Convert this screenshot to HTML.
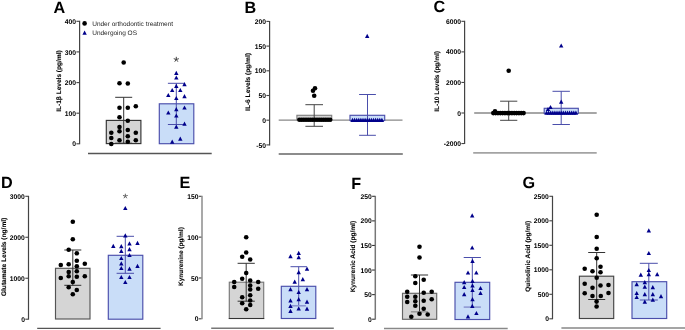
<!DOCTYPE html>
<html><head><meta charset="utf-8"><style>
html,body{margin:0;padding:0;background:#fff;}
body{width:685px;height:330px;overflow:hidden;}
svg{display:block;font-family:"Liberation Sans", sans-serif;text-rendering:geometricPrecision;}
svg{will-change:transform;}
</style></head><body>
<svg width="685" height="330" viewBox="0 0 685 330">
<rect width="685" height="330" fill="#fff"/>
<text x="53.6" y="13.3" font-size="16.2" font-weight="bold" fill="#000">A</text>
<line x1="79.60" y1="20.80" x2="79.60" y2="144.30" stroke="#444" stroke-width="1.2"/>
<line x1="76.40" y1="21.30" x2="79.30" y2="21.30" stroke="#444" stroke-width="1.1"/>
<text x="76.00" y="23.90" font-size="6.75" font-weight="bold" text-anchor="end" fill="#000" >400</text>
<line x1="76.40" y1="51.90" x2="79.30" y2="51.90" stroke="#444" stroke-width="1.1"/>
<text x="76.00" y="54.50" font-size="6.75" font-weight="bold" text-anchor="end" fill="#000" >300</text>
<line x1="76.40" y1="82.60" x2="79.30" y2="82.60" stroke="#444" stroke-width="1.1"/>
<text x="76.00" y="85.20" font-size="6.75" font-weight="bold" text-anchor="end" fill="#000" >200</text>
<line x1="76.40" y1="113.20" x2="79.30" y2="113.20" stroke="#444" stroke-width="1.1"/>
<text x="76.00" y="115.80" font-size="6.75" font-weight="bold" text-anchor="end" fill="#000" >100</text>
<line x1="76.40" y1="143.80" x2="79.30" y2="143.80" stroke="#444" stroke-width="1.1"/>
<text x="76.00" y="146.40" font-size="6.75" font-weight="bold" text-anchor="end" fill="#000" >0</text>
<text transform="translate(61.3,81.05) rotate(-90)" font-size="6.55" font-weight="bold" text-anchor="middle" fill="#000" stroke="#000" stroke-width="0.1">IL-1β Levels (pg/ml)</text>
<rect x="106.3" y="120.4" width="34.60" height="23.20" fill="#d5d5d5" stroke="#333" stroke-width="1.15"/>
<line x1="123.70" y1="97.30" x2="123.70" y2="143.20" stroke="#333" stroke-width="1"/>
<line x1="115.20" y1="97.30" x2="132.20" y2="97.30" stroke="#333" stroke-width="1"/>
<line x1="115.20" y1="143.20" x2="132.20" y2="143.20" stroke="#333" stroke-width="1"/>
<circle cx="123.7" cy="62.5" r="2.3" fill="#000"/>
<circle cx="119.5" cy="83.3" r="2.3" fill="#000"/>
<circle cx="127.8" cy="83.5" r="2.3" fill="#000"/>
<circle cx="119.5" cy="107.8" r="2.3" fill="#000"/>
<circle cx="127.8" cy="107.8" r="2.3" fill="#000"/>
<circle cx="135.8" cy="106.2" r="2.3" fill="#000"/>
<circle cx="119.5" cy="117.3" r="2.3" fill="#000"/>
<circle cx="127.8" cy="120.7" r="2.3" fill="#000"/>
<circle cx="119.5" cy="127" r="2.3" fill="#000"/>
<circle cx="119.5" cy="131.3" r="2.3" fill="#000"/>
<circle cx="127.8" cy="130" r="2.3" fill="#000"/>
<circle cx="135.8" cy="132.7" r="2.3" fill="#000"/>
<circle cx="111.3" cy="132.8" r="2.3" fill="#000"/>
<circle cx="111.3" cy="138" r="2.3" fill="#000"/>
<circle cx="127.8" cy="136.3" r="2.3" fill="#000"/>
<circle cx="119.5" cy="140.3" r="2.3" fill="#000"/>
<circle cx="127.8" cy="141.7" r="2.3" fill="#000"/>
<circle cx="135.8" cy="140.3" r="2.3" fill="#000"/>
<circle cx="111.3" cy="144" r="2.3" fill="#000"/>
<rect x="159.3" y="103.8" width="34.50" height="39.90" fill="#c9ddf8" stroke="#4a4eab" stroke-width="1.15"/>
<line x1="176.30" y1="83.30" x2="176.30" y2="124.50" stroke="#4a4eab" stroke-width="1"/>
<line x1="167.90" y1="83.30" x2="184.70" y2="83.30" stroke="#4a4eab" stroke-width="1"/>
<line x1="167.90" y1="124.50" x2="184.70" y2="124.50" stroke="#4a4eab" stroke-width="1"/>
<path d="M174.10,74.90L176.30,70.70L178.50,74.90Z" fill="#00008b"/>
<path d="M174.10,79.60L176.30,75.40L178.50,79.60Z" fill="#00008b"/>
<path d="M182.30,86.30L184.50,82.10L186.70,86.30Z" fill="#00008b"/>
<path d="M174.10,87.90L176.30,83.70L178.50,87.90Z" fill="#00008b"/>
<path d="M170.00,92.10L172.20,87.90L174.40,92.10Z" fill="#00008b"/>
<path d="M178.10,92.10L180.30,87.90L182.50,92.10Z" fill="#00008b"/>
<path d="M166.10,97.10L168.30,92.90L170.50,97.10Z" fill="#00008b"/>
<path d="M182.30,98.30L184.50,94.10L186.70,98.30Z" fill="#00008b"/>
<path d="M174.10,100.10L176.30,95.90L178.50,100.10Z" fill="#00008b"/>
<path d="M182.30,109.60L184.50,105.40L186.70,109.60Z" fill="#00008b"/>
<path d="M166.10,114.60L168.30,110.40L170.50,114.60Z" fill="#00008b"/>
<path d="M174.10,111.30L176.30,107.10L178.50,111.30Z" fill="#00008b"/>
<path d="M174.10,117.60L176.30,113.40L178.50,117.60Z" fill="#00008b"/>
<path d="M182.30,125.80L184.50,121.60L186.70,125.80Z" fill="#00008b"/>
<path d="M174.10,128.80L176.30,124.60L178.50,128.80Z" fill="#00008b"/>
<path d="M178.10,140.80L180.30,136.60L182.50,140.80Z" fill="#00008b"/>
<path d="M170.00,143.80L172.20,139.60L174.40,143.80Z" fill="#00008b"/>
<path d="M176.30,59.50L176.30,57.20M176.30,59.50L178.49,58.79M176.30,59.50L177.65,61.36M176.30,59.50L174.95,61.36M176.30,59.50L174.11,58.79" stroke="#444" stroke-width="1.0" stroke-linecap="round" fill="none"/>
<line x1="88.00" y1="153.50" x2="211.70" y2="153.50" stroke="#555" stroke-width="1.3"/>
<circle cx="84.6" cy="23.4" r="2.3" fill="#000"/>
<text x="92.20" y="25.70" font-size="6.5" font-weight="normal" text-anchor="start" fill="#222" >Under orthodontic treatment</text>
<path d="M82.40,34.70L84.60,30.50L86.80,34.70Z" fill="#00008b"/>
<text x="92.20" y="34.60" font-size="6.5" font-weight="normal" text-anchor="start" fill="#222" >Undergoing OS</text>
<text x="244.5" y="13.3" font-size="16.2" font-weight="bold" fill="#000">B</text>
<line x1="269.60" y1="20.90" x2="269.60" y2="145.40" stroke="#444" stroke-width="1.2"/>
<line x1="266.40" y1="21.40" x2="269.30" y2="21.40" stroke="#444" stroke-width="1.1"/>
<text x="266.00" y="24.00" font-size="6.75" font-weight="bold" text-anchor="end" fill="#000" >200</text>
<line x1="266.40" y1="46.10" x2="269.30" y2="46.10" stroke="#444" stroke-width="1.1"/>
<text x="266.00" y="48.70" font-size="6.75" font-weight="bold" text-anchor="end" fill="#000" >150</text>
<line x1="266.40" y1="70.80" x2="269.30" y2="70.80" stroke="#444" stroke-width="1.1"/>
<text x="266.00" y="73.40" font-size="6.75" font-weight="bold" text-anchor="end" fill="#000" >100</text>
<line x1="266.40" y1="95.50" x2="269.30" y2="95.50" stroke="#444" stroke-width="1.1"/>
<text x="266.00" y="98.10" font-size="6.75" font-weight="bold" text-anchor="end" fill="#000" >50</text>
<line x1="266.40" y1="120.20" x2="269.30" y2="120.20" stroke="#444" stroke-width="1.1"/>
<text x="266.00" y="122.80" font-size="6.75" font-weight="bold" text-anchor="end" fill="#000" >0</text>
<line x1="266.40" y1="144.90" x2="269.30" y2="144.90" stroke="#444" stroke-width="1.1"/>
<text x="266.00" y="147.50" font-size="6.75" font-weight="bold" text-anchor="end" fill="#000" >-50</text>
<text transform="translate(250.2,82.0) rotate(-90)" font-size="6.6" font-weight="bold" text-anchor="middle" fill="#000" stroke="#000" stroke-width="0.1">IL-6 Levels (pg/ml)</text>
<line x1="278.70" y1="120.20" x2="402.50" y2="120.20" stroke="#888" stroke-width="1.3"/>
<rect x="296.9" y="115.3" width="34.80" height="4.70" fill="#d5d5d5" stroke="#808080" stroke-width="1.15"/>
<line x1="314.20" y1="104.70" x2="314.20" y2="126.30" stroke="#444" stroke-width="1"/>
<line x1="305.40" y1="104.70" x2="323.00" y2="104.70" stroke="#444" stroke-width="1"/>
<line x1="305.40" y1="126.30" x2="323.00" y2="126.30" stroke="#444" stroke-width="1"/>
<circle cx="299.4" cy="119.7" r="2.3" fill="#000"/>
<circle cx="301.59999999999997" cy="119.7" r="2.3" fill="#000"/>
<circle cx="303.79999999999995" cy="119.7" r="2.3" fill="#000"/>
<circle cx="306.0" cy="119.7" r="2.3" fill="#000"/>
<circle cx="308.2" cy="119.7" r="2.3" fill="#000"/>
<circle cx="310.4" cy="119.7" r="2.3" fill="#000"/>
<circle cx="312.59999999999997" cy="119.7" r="2.3" fill="#000"/>
<circle cx="314.79999999999995" cy="119.7" r="2.3" fill="#000"/>
<circle cx="317.0" cy="119.7" r="2.3" fill="#000"/>
<circle cx="319.2" cy="119.7" r="2.3" fill="#000"/>
<circle cx="321.4" cy="119.7" r="2.3" fill="#000"/>
<circle cx="323.59999999999997" cy="119.7" r="2.3" fill="#000"/>
<circle cx="325.79999999999995" cy="119.7" r="2.3" fill="#000"/>
<circle cx="328.0" cy="119.7" r="2.3" fill="#000"/>
<circle cx="330.2" cy="119.7" r="2.3" fill="#000"/>
<circle cx="314.2" cy="95.8" r="2.3" fill="#000"/>
<circle cx="313" cy="90.8" r="2.3" fill="#000"/>
<circle cx="315" cy="88.3" r="2.3" fill="#000"/>
<rect x="350" y="115.3" width="34.70" height="5.20" fill="#c9ddf8" stroke="#4a4eab" stroke-width="1.15"/>
<line x1="367.50" y1="94.50" x2="367.50" y2="135.30" stroke="#4a4eab" stroke-width="1"/>
<line x1="359.10" y1="94.50" x2="375.90" y2="94.50" stroke="#4a4eab" stroke-width="1"/>
<line x1="359.10" y1="135.30" x2="375.90" y2="135.30" stroke="#4a4eab" stroke-width="1"/>
<path d="M350.30,122.00L352.50,117.80L354.70,122.00Z" fill="#00008b"/>
<path d="M352.40,122.00L354.60,117.80L356.80,122.00Z" fill="#00008b"/>
<path d="M354.50,122.00L356.70,117.80L358.90,122.00Z" fill="#00008b"/>
<path d="M356.60,122.00L358.80,117.80L361.00,122.00Z" fill="#00008b"/>
<path d="M358.70,122.00L360.90,117.80L363.10,122.00Z" fill="#00008b"/>
<path d="M360.80,122.00L363.00,117.80L365.20,122.00Z" fill="#00008b"/>
<path d="M362.90,122.00L365.10,117.80L367.30,122.00Z" fill="#00008b"/>
<path d="M365.00,122.00L367.20,117.80L369.40,122.00Z" fill="#00008b"/>
<path d="M367.10,122.00L369.30,117.80L371.50,122.00Z" fill="#00008b"/>
<path d="M369.20,122.00L371.40,117.80L373.60,122.00Z" fill="#00008b"/>
<path d="M371.30,122.00L373.50,117.80L375.70,122.00Z" fill="#00008b"/>
<path d="M373.40,122.00L375.60,117.80L377.80,122.00Z" fill="#00008b"/>
<path d="M375.50,122.00L377.70,117.80L379.90,122.00Z" fill="#00008b"/>
<path d="M377.60,122.00L379.80,117.80L382.00,122.00Z" fill="#00008b"/>
<path d="M379.70,122.00L381.90,117.80L384.10,122.00Z" fill="#00008b"/>
<path d="M365.00,37.90L367.20,33.70L369.40,37.90Z" fill="#00008b"/>
<line x1="278.70" y1="154.00" x2="402.80" y2="154.00" stroke="#666" stroke-width="1.3"/>
<text x="433.4" y="12.4" font-size="16.2" font-weight="bold" fill="#000">C</text>
<line x1="464.60" y1="20.82" x2="464.60" y2="144.06" stroke="#444" stroke-width="1.2"/>
<line x1="461.40" y1="21.32" x2="464.30" y2="21.32" stroke="#444" stroke-width="1.1"/>
<text x="461.00" y="23.92" font-size="6.75" font-weight="bold" text-anchor="end" fill="#000" >6000</text>
<line x1="461.40" y1="51.88" x2="464.30" y2="51.88" stroke="#444" stroke-width="1.1"/>
<text x="461.00" y="54.48" font-size="6.75" font-weight="bold" text-anchor="end" fill="#000" >4000</text>
<line x1="461.40" y1="82.44" x2="464.30" y2="82.44" stroke="#444" stroke-width="1.1"/>
<text x="461.00" y="85.04" font-size="6.75" font-weight="bold" text-anchor="end" fill="#000" >2000</text>
<line x1="461.40" y1="113.00" x2="464.30" y2="113.00" stroke="#444" stroke-width="1.1"/>
<text x="461.00" y="115.60" font-size="6.75" font-weight="bold" text-anchor="end" fill="#000" >0</text>
<line x1="461.40" y1="143.56" x2="464.30" y2="143.56" stroke="#444" stroke-width="1.1"/>
<text x="461.00" y="146.16" font-size="6.75" font-weight="bold" text-anchor="end" fill="#000" >-2000</text>
<text transform="translate(438.8,81.45) rotate(-90)" font-size="6.5" font-weight="bold" text-anchor="middle" fill="#000" stroke="#000" stroke-width="0.1">IL-10 Levels (pg/ml)</text>
<line x1="474.20" y1="113.00" x2="596.70" y2="113.00" stroke="#888" stroke-width="1.3"/>
<line x1="508.70" y1="101.20" x2="508.70" y2="120.30" stroke="#444" stroke-width="1"/>
<line x1="500.10" y1="101.20" x2="517.30" y2="101.20" stroke="#444" stroke-width="1"/>
<line x1="500.10" y1="120.30" x2="517.30" y2="120.30" stroke="#444" stroke-width="1"/>
<circle cx="493.3" cy="113.1" r="2.3" fill="#000"/>
<circle cx="495.63" cy="113.1" r="2.3" fill="#000"/>
<circle cx="497.96000000000004" cy="113.1" r="2.3" fill="#000"/>
<circle cx="500.29" cy="113.1" r="2.3" fill="#000"/>
<circle cx="502.62" cy="113.1" r="2.3" fill="#000"/>
<circle cx="504.95" cy="113.1" r="2.3" fill="#000"/>
<circle cx="507.28000000000003" cy="113.1" r="2.3" fill="#000"/>
<circle cx="509.61" cy="113.1" r="2.3" fill="#000"/>
<circle cx="511.94" cy="113.1" r="2.3" fill="#000"/>
<circle cx="514.27" cy="113.1" r="2.3" fill="#000"/>
<circle cx="516.6" cy="113.1" r="2.3" fill="#000"/>
<circle cx="518.9300000000001" cy="113.1" r="2.3" fill="#000"/>
<circle cx="521.26" cy="113.1" r="2.3" fill="#000"/>
<circle cx="523.59" cy="113.1" r="2.3" fill="#000"/>
<circle cx="495.0" cy="111.4" r="2.3" fill="#000"/>
<circle cx="508.7" cy="70.8" r="2.3" fill="#000"/>
<rect x="544.2" y="108.3" width="34.10" height="5.20" fill="#c9ddf8" stroke="#4a4eab" stroke-width="1.15"/>
<line x1="561.20" y1="91.30" x2="561.20" y2="124.50" stroke="#4a4eab" stroke-width="1"/>
<line x1="552.50" y1="91.30" x2="569.90" y2="91.30" stroke="#4a4eab" stroke-width="1"/>
<line x1="552.50" y1="124.50" x2="569.90" y2="124.50" stroke="#4a4eab" stroke-width="1"/>
<path d="M544.30,114.70L546.50,110.50L548.70,114.70Z" fill="#00008b"/>
<path d="M546.40,114.70L548.60,110.50L550.80,114.70Z" fill="#00008b"/>
<path d="M548.50,114.70L550.70,110.50L552.90,114.70Z" fill="#00008b"/>
<path d="M550.60,114.70L552.80,110.50L555.00,114.70Z" fill="#00008b"/>
<path d="M552.70,114.70L554.90,110.50L557.10,114.70Z" fill="#00008b"/>
<path d="M554.80,114.70L557.00,110.50L559.20,114.70Z" fill="#00008b"/>
<path d="M556.90,114.70L559.10,110.50L561.30,114.70Z" fill="#00008b"/>
<path d="M559.00,114.70L561.20,110.50L563.40,114.70Z" fill="#00008b"/>
<path d="M561.10,114.70L563.30,110.50L565.50,114.70Z" fill="#00008b"/>
<path d="M563.20,114.70L565.40,110.50L567.60,114.70Z" fill="#00008b"/>
<path d="M565.30,114.70L567.50,110.50L569.70,114.70Z" fill="#00008b"/>
<path d="M567.40,114.70L569.60,110.50L571.80,114.70Z" fill="#00008b"/>
<path d="M569.50,114.70L571.70,110.50L573.90,114.70Z" fill="#00008b"/>
<path d="M571.60,114.70L573.80,110.50L576.00,114.70Z" fill="#00008b"/>
<path d="M573.70,114.70L575.90,110.50L578.10,114.70Z" fill="#00008b"/>
<path d="M559.00,47.60L561.20,43.40L563.40,47.60Z" fill="#00008b"/>
<path d="M559.00,103.80L561.20,99.60L563.40,103.80Z" fill="#00008b"/>
<path d="M548.30,109.10L550.50,104.90L552.70,109.10Z" fill="#00008b"/>
<path d="M545.80,111.10L548.00,106.90L550.20,111.10Z" fill="#00008b"/>
<line x1="473.20" y1="152.80" x2="596.70" y2="152.80" stroke="#a3a3a3" stroke-width="1.8"/>
<text x="0.9" y="188.3" font-size="16.2" font-weight="bold" fill="#000">D</text>
<line x1="28.50" y1="195.79" x2="28.50" y2="319.70" stroke="#444" stroke-width="1.2"/>
<line x1="25.30" y1="196.29" x2="28.20" y2="196.29" stroke="#444" stroke-width="1.1"/>
<text x="24.90" y="198.89" font-size="6.75" font-weight="bold" text-anchor="end" fill="#000" >3000</text>
<line x1="25.30" y1="237.26" x2="28.20" y2="237.26" stroke="#444" stroke-width="1.1"/>
<text x="24.90" y="239.86" font-size="6.75" font-weight="bold" text-anchor="end" fill="#000" >2000</text>
<line x1="25.30" y1="278.23" x2="28.20" y2="278.23" stroke="#444" stroke-width="1.1"/>
<text x="24.90" y="280.83" font-size="6.75" font-weight="bold" text-anchor="end" fill="#000" >1000</text>
<line x1="25.30" y1="319.20" x2="28.20" y2="319.20" stroke="#444" stroke-width="1.1"/>
<text x="24.90" y="321.80" font-size="6.75" font-weight="bold" text-anchor="end" fill="#000" >0</text>
<text transform="translate(5.5,256.9) rotate(-90)" font-size="6.6" font-weight="bold" text-anchor="middle" fill="#000" stroke="#000" stroke-width="0.1">Glutamate Levels (ng/ml)</text>
<rect x="55.5" y="268.3" width="34.50" height="50.70" fill="#d5d5d5" stroke="#555" stroke-width="1.15"/>
<line x1="72.80" y1="250.00" x2="72.80" y2="285.30" stroke="#333" stroke-width="1"/>
<line x1="64.30" y1="250.00" x2="81.30" y2="250.00" stroke="#333" stroke-width="1"/>
<line x1="64.30" y1="285.30" x2="81.30" y2="285.30" stroke="#333" stroke-width="1"/>
<circle cx="72.8" cy="221.7" r="2.3" fill="#000"/>
<circle cx="72.8" cy="239.2" r="2.3" fill="#000"/>
<circle cx="68.7" cy="249.7" r="2.3" fill="#000"/>
<circle cx="76.8" cy="253.3" r="2.3" fill="#000"/>
<circle cx="76.8" cy="260.8" r="2.3" fill="#000"/>
<circle cx="60.8" cy="265" r="2.3" fill="#000"/>
<circle cx="68.7" cy="264.2" r="2.3" fill="#000"/>
<circle cx="76.8" cy="266.3" r="2.3" fill="#000"/>
<circle cx="84.8" cy="263.8" r="2.3" fill="#000"/>
<circle cx="68.7" cy="272" r="2.3" fill="#000"/>
<circle cx="76.8" cy="271.3" r="2.3" fill="#000"/>
<circle cx="60.8" cy="278" r="2.3" fill="#000"/>
<circle cx="68.7" cy="276.3" r="2.3" fill="#000"/>
<circle cx="76.8" cy="276.7" r="2.3" fill="#000"/>
<circle cx="84.8" cy="276.3" r="2.3" fill="#000"/>
<circle cx="72.8" cy="282" r="2.3" fill="#000"/>
<circle cx="68.7" cy="287.2" r="2.3" fill="#000"/>
<circle cx="76.8" cy="290" r="2.3" fill="#000"/>
<circle cx="72.8" cy="294.2" r="2.3" fill="#000"/>
<rect x="108.3" y="255.3" width="34.50" height="63.90" fill="#c9ddf8" stroke="#4a4eab" stroke-width="1.15"/>
<line x1="125.30" y1="236.30" x2="125.30" y2="273.30" stroke="#4a4eab" stroke-width="1"/>
<line x1="116.60" y1="236.30" x2="134.00" y2="236.30" stroke="#4a4eab" stroke-width="1"/>
<line x1="116.60" y1="273.30" x2="134.00" y2="273.30" stroke="#4a4eab" stroke-width="1"/>
<path d="M123.10,210.10L125.30,205.90L127.50,210.10Z" fill="#00008b"/>
<path d="M123.10,237.40L125.30,233.20L127.50,237.40Z" fill="#00008b"/>
<path d="M111.10,247.90L113.30,243.70L115.50,247.90Z" fill="#00008b"/>
<path d="M119.10,248.30L121.30,244.10L123.50,248.30Z" fill="#00008b"/>
<path d="M127.30,245.40L129.50,241.20L131.70,245.40Z" fill="#00008b"/>
<path d="M135.30,244.90L137.50,240.70L139.70,244.90Z" fill="#00008b"/>
<path d="M119.10,252.90L121.30,248.70L123.50,252.90Z" fill="#00008b"/>
<path d="M127.30,251.30L129.50,247.10L131.70,251.30Z" fill="#00008b"/>
<path d="M127.30,257.10L129.50,252.90L131.70,257.10Z" fill="#00008b"/>
<path d="M119.10,260.10L121.30,255.90L123.50,260.10Z" fill="#00008b"/>
<path d="M119.10,265.40L121.30,261.20L123.50,265.40Z" fill="#00008b"/>
<path d="M119.10,270.10L121.30,265.90L123.50,270.10Z" fill="#00008b"/>
<path d="M127.30,270.80L129.50,266.60L131.70,270.80Z" fill="#00008b"/>
<path d="M135.30,267.90L137.50,263.70L139.70,267.90Z" fill="#00008b"/>
<path d="M119.10,279.10L121.30,274.90L123.50,279.10Z" fill="#00008b"/>
<path d="M127.30,279.10L129.50,274.90L131.70,279.10Z" fill="#00008b"/>
<path d="M123.10,284.10L125.30,279.90L127.50,284.10Z" fill="#00008b"/>
<path d="M125.35,196.20L125.35,194.10M125.35,196.20L127.35,195.55M125.35,196.20L126.58,197.90M125.35,196.20L124.12,197.90M125.35,196.20L123.35,195.55" stroke="#666" stroke-width="1.0" stroke-linecap="round" fill="none"/>
<line x1="37.20" y1="328.30" x2="160.60" y2="328.30" stroke="#555" stroke-width="1.3"/>
<text x="179.6" y="188.3" font-size="16.2" font-weight="bold" fill="#000">E</text>
<line x1="202.00" y1="195.80" x2="202.00" y2="319.30" stroke="#a0a0a0" stroke-width="1.8"/>
<line x1="198.80" y1="196.30" x2="201.40" y2="196.30" stroke="#444" stroke-width="1.1"/>
<text x="198.40" y="198.90" font-size="6.75" font-weight="bold" text-anchor="end" fill="#000" >150</text>
<line x1="198.80" y1="237.13" x2="201.40" y2="237.13" stroke="#444" stroke-width="1.1"/>
<text x="198.40" y="239.73" font-size="6.75" font-weight="bold" text-anchor="end" fill="#000" >100</text>
<line x1="198.80" y1="277.97" x2="201.40" y2="277.97" stroke="#444" stroke-width="1.1"/>
<text x="198.40" y="280.57" font-size="6.75" font-weight="bold" text-anchor="end" fill="#000" >50</text>
<line x1="198.80" y1="318.80" x2="201.40" y2="318.80" stroke="#444" stroke-width="1.1"/>
<text x="198.40" y="321.40" font-size="6.75" font-weight="bold" text-anchor="end" fill="#000" >0</text>
<text transform="translate(182.8,256.55) rotate(-90)" font-size="6.45" font-weight="bold" text-anchor="middle" fill="#000" stroke="#000" stroke-width="0.1">Kynurenine (pg/ml)</text>
<rect x="229.3" y="282.2" width="34.40" height="36.30" fill="#d5d5d5" stroke="#777" stroke-width="1.15"/>
<line x1="228.80" y1="318.50" x2="264.20" y2="318.50" stroke="#333" stroke-width="1.1"/>
<line x1="246.20" y1="263.30" x2="246.20" y2="301.20" stroke="#333" stroke-width="1"/>
<line x1="237.60" y1="263.30" x2="254.80" y2="263.30" stroke="#333" stroke-width="1"/>
<line x1="237.60" y1="301.20" x2="254.80" y2="301.20" stroke="#333" stroke-width="1"/>
<circle cx="246.2" cy="237.2" r="2.3" fill="#000"/>
<circle cx="246.2" cy="252.5" r="2.3" fill="#000"/>
<circle cx="242.2" cy="256.7" r="2.3" fill="#000"/>
<circle cx="250.2" cy="259.5" r="2.3" fill="#000"/>
<circle cx="246.2" cy="273" r="2.3" fill="#000"/>
<circle cx="242.2" cy="278.7" r="2.3" fill="#000"/>
<circle cx="234.2" cy="282" r="2.3" fill="#000"/>
<circle cx="250.2" cy="280.5" r="2.3" fill="#000"/>
<circle cx="258.2" cy="282" r="2.3" fill="#000"/>
<circle cx="234.2" cy="287" r="2.3" fill="#000"/>
<circle cx="250.2" cy="285.5" r="2.3" fill="#000"/>
<circle cx="250.2" cy="289.5" r="2.3" fill="#000"/>
<circle cx="258.2" cy="288.7" r="2.3" fill="#000"/>
<circle cx="250.2" cy="295.3" r="2.3" fill="#000"/>
<circle cx="242.2" cy="297.2" r="2.3" fill="#000"/>
<circle cx="250.2" cy="300.5" r="2.3" fill="#000"/>
<circle cx="242.2" cy="303.3" r="2.3" fill="#000"/>
<circle cx="250.2" cy="305" r="2.3" fill="#000"/>
<circle cx="246.2" cy="309.2" r="2.3" fill="#000"/>
<rect x="281.3" y="286.3" width="34.50" height="32.20" fill="#c9ddf8" stroke="#4a4eab" stroke-width="1.15"/>
<line x1="298.70" y1="266.70" x2="298.70" y2="305.80" stroke="#4a4eab" stroke-width="1"/>
<line x1="290.50" y1="266.70" x2="306.90" y2="266.70" stroke="#4a4eab" stroke-width="1"/>
<line x1="291.50" y1="305.80" x2="305.90" y2="305.80" stroke="#8a93d0" stroke-width="1.5"/>
<path d="M288.30,258.30L290.50,254.10L292.70,258.30Z" fill="#00008b"/>
<path d="M296.50,254.90L298.70,250.70L300.90,254.90Z" fill="#00008b"/>
<path d="M296.50,259.30L298.70,255.10L300.90,259.30Z" fill="#00008b"/>
<path d="M304.80,270.80L307.00,266.60L309.20,270.80Z" fill="#00008b"/>
<path d="M296.50,274.30L298.70,270.10L300.90,274.30Z" fill="#00008b"/>
<path d="M292.50,283.80L294.70,279.60L296.90,283.80Z" fill="#00008b"/>
<path d="M300.60,281.30L302.80,277.10L305.00,281.30Z" fill="#00008b"/>
<path d="M288.30,291.30L290.50,287.10L292.70,291.30Z" fill="#00008b"/>
<path d="M304.80,291.30L307.00,287.10L309.20,291.30Z" fill="#00008b"/>
<path d="M296.50,294.10L298.70,289.90L300.90,294.10Z" fill="#00008b"/>
<path d="M296.50,301.30L298.70,297.10L300.90,301.30Z" fill="#00008b"/>
<path d="M288.30,302.40L290.50,298.20L292.70,302.40Z" fill="#00008b"/>
<path d="M304.80,303.80L307.00,299.60L309.20,303.80Z" fill="#00008b"/>
<path d="M288.30,307.90L290.50,303.70L292.70,307.90Z" fill="#00008b"/>
<path d="M296.50,310.40L298.70,306.20L300.90,310.40Z" fill="#00008b"/>
<path d="M304.80,310.80L307.00,306.60L309.20,310.80Z" fill="#00008b"/>
<path d="M288.30,312.90L290.50,308.70L292.70,312.90Z" fill="#00008b"/>
<line x1="211.20" y1="328.20" x2="333.80" y2="328.20" stroke="#777" stroke-width="1.4"/>
<text x="351.3" y="188.6" font-size="16.2" font-weight="bold" fill="#000">F</text>
<line x1="375.30" y1="195.80" x2="375.30" y2="319.70" stroke="#777" stroke-width="1.5"/>
<line x1="372.10" y1="196.30" x2="374.85" y2="196.30" stroke="#333" stroke-width="1.1"/>
<text x="371.70" y="198.90" font-size="6.75" font-weight="bold" text-anchor="end" fill="#000" >250</text>
<line x1="372.10" y1="220.88" x2="374.85" y2="220.88" stroke="#333" stroke-width="1.1"/>
<text x="371.70" y="223.48" font-size="6.75" font-weight="bold" text-anchor="end" fill="#000" >200</text>
<line x1="372.10" y1="245.46" x2="374.85" y2="245.46" stroke="#333" stroke-width="1.1"/>
<text x="371.70" y="248.06" font-size="6.75" font-weight="bold" text-anchor="end" fill="#000" >150</text>
<line x1="372.10" y1="270.04" x2="374.85" y2="270.04" stroke="#333" stroke-width="1.1"/>
<text x="371.70" y="272.64" font-size="6.75" font-weight="bold" text-anchor="end" fill="#000" >100</text>
<line x1="372.10" y1="294.62" x2="374.85" y2="294.62" stroke="#333" stroke-width="1.1"/>
<text x="371.70" y="297.22" font-size="6.75" font-weight="bold" text-anchor="end" fill="#000" >50</text>
<line x1="372.10" y1="319.20" x2="374.85" y2="319.20" stroke="#333" stroke-width="1.1"/>
<text x="371.70" y="321.80" font-size="6.75" font-weight="bold" text-anchor="end" fill="#000" >0</text>
<text transform="translate(355.3,256.65) rotate(-90)" font-size="6.55" font-weight="bold" text-anchor="middle" fill="#000" stroke="#000" stroke-width="0.1">Kynurenic Acid (pg/ml)</text>
<rect x="402.5" y="293.3" width="34.20" height="26.00" fill="#d5d5d5" stroke="#666" stroke-width="1.15"/>
<line x1="419.50" y1="275.00" x2="419.50" y2="311.80" stroke="#333" stroke-width="1"/>
<line x1="410.90" y1="275.00" x2="428.10" y2="275.00" stroke="#333" stroke-width="1"/>
<line x1="410.90" y1="311.80" x2="428.10" y2="311.80" stroke="#999" stroke-width="1.5"/>
<circle cx="419.5" cy="246.7" r="2.3" fill="#000"/>
<circle cx="419.5" cy="257.5" r="2.3" fill="#000"/>
<circle cx="415.3" cy="276.2" r="2.3" fill="#000"/>
<circle cx="423.7" cy="279.7" r="2.3" fill="#000"/>
<circle cx="415.3" cy="283" r="2.3" fill="#000"/>
<circle cx="407.2" cy="291.7" r="2.3" fill="#000"/>
<circle cx="423.7" cy="292.8" r="2.3" fill="#000"/>
<circle cx="431.7" cy="291.7" r="2.3" fill="#000"/>
<circle cx="407.2" cy="296.7" r="2.3" fill="#000"/>
<circle cx="415.3" cy="296.7" r="2.3" fill="#000"/>
<circle cx="431.7" cy="299.2" r="2.3" fill="#000"/>
<circle cx="407.2" cy="302" r="2.3" fill="#000"/>
<circle cx="415.3" cy="301.2" r="2.3" fill="#000"/>
<circle cx="423.7" cy="300.8" r="2.3" fill="#000"/>
<circle cx="415.3" cy="305.8" r="2.3" fill="#000"/>
<circle cx="423.7" cy="308.8" r="2.3" fill="#000"/>
<circle cx="419.5" cy="313.7" r="2.3" fill="#000"/>
<circle cx="427.7" cy="314.5" r="2.3" fill="#000"/>
<circle cx="411.3" cy="316.7" r="2.3" fill="#000"/>
<rect x="455" y="282.3" width="34.70" height="37.20" fill="#c9ddf8" stroke="#4a4eab" stroke-width="1.15"/>
<line x1="472.30" y1="257.50" x2="472.30" y2="307.10" stroke="#4a4eab" stroke-width="1"/>
<line x1="463.70" y1="257.50" x2="480.90" y2="257.50" stroke="#4a4eab" stroke-width="1"/>
<line x1="463.70" y1="307.10" x2="480.90" y2="307.10" stroke="#8a93d0" stroke-width="1.5"/>
<path d="M470.00,217.40L472.20,213.20L474.40,217.40Z" fill="#00008b"/>
<path d="M470.00,249.60L472.20,245.40L474.40,249.60Z" fill="#00008b"/>
<path d="M470.30,262.90L472.50,258.70L474.70,262.90Z" fill="#00008b"/>
<path d="M465.80,274.60L468.00,270.40L470.20,274.60Z" fill="#00008b"/>
<path d="M474.10,274.60L476.30,270.40L478.50,274.60Z" fill="#00008b"/>
<path d="M470.30,282.90L472.50,278.70L474.70,282.90Z" fill="#00008b"/>
<path d="M462.00,284.30L464.20,280.10L466.40,284.30Z" fill="#00008b"/>
<path d="M462.00,289.10L464.20,284.90L466.40,289.10Z" fill="#00008b"/>
<path d="M470.30,287.40L472.50,283.20L474.70,287.40Z" fill="#00008b"/>
<path d="M470.30,292.10L472.50,287.90L474.70,292.10Z" fill="#00008b"/>
<path d="M478.30,290.10L480.50,285.90L482.70,290.10Z" fill="#00008b"/>
<path d="M478.30,295.10L480.50,290.90L482.70,295.10Z" fill="#00008b"/>
<path d="M462.00,296.30L464.20,292.10L466.40,296.30Z" fill="#00008b"/>
<path d="M470.30,301.30L472.50,297.10L474.70,301.30Z" fill="#00008b"/>
<path d="M470.10,307.90L472.30,303.70L474.50,307.90Z" fill="#00008b"/>
<path d="M474.20,315.10L476.40,310.90L478.60,315.10Z" fill="#00008b"/>
<path d="M465.80,318.50L468.00,314.30L470.20,318.50Z" fill="#00008b"/>
<line x1="384.00" y1="328.50" x2="507.70" y2="328.50" stroke="#888" stroke-width="1.4"/>
<text x="522.4" y="188.3" font-size="16.2" font-weight="bold" fill="#000">G</text>
<line x1="552.50" y1="195.80" x2="552.50" y2="319.30" stroke="#444" stroke-width="1.2"/>
<line x1="549.30" y1="196.30" x2="552.20" y2="196.30" stroke="#444" stroke-width="1.1"/>
<text x="548.90" y="198.90" font-size="6.75" font-weight="bold" text-anchor="end" fill="#000" >2500</text>
<line x1="549.30" y1="220.80" x2="552.20" y2="220.80" stroke="#444" stroke-width="1.1"/>
<text x="548.90" y="223.40" font-size="6.75" font-weight="bold" text-anchor="end" fill="#000" >2000</text>
<line x1="549.30" y1="245.30" x2="552.20" y2="245.30" stroke="#444" stroke-width="1.1"/>
<text x="548.90" y="247.90" font-size="6.75" font-weight="bold" text-anchor="end" fill="#000" >1500</text>
<line x1="549.30" y1="269.80" x2="552.20" y2="269.80" stroke="#444" stroke-width="1.1"/>
<text x="548.90" y="272.40" font-size="6.75" font-weight="bold" text-anchor="end" fill="#000" >1000</text>
<line x1="549.30" y1="294.30" x2="552.20" y2="294.30" stroke="#444" stroke-width="1.1"/>
<text x="548.90" y="296.90" font-size="6.75" font-weight="bold" text-anchor="end" fill="#000" >500</text>
<line x1="549.30" y1="318.80" x2="552.20" y2="318.80" stroke="#444" stroke-width="1.1"/>
<text x="548.90" y="321.40" font-size="6.75" font-weight="bold" text-anchor="end" fill="#000" >0</text>
<text transform="translate(529.7,256.4) rotate(-90)" font-size="6.5" font-weight="bold" text-anchor="middle" fill="#000" stroke="#000" stroke-width="0.1">Quinolinic Acid (pg/ml)</text>
<rect x="579.4" y="276.2" width="34.30" height="42.30" fill="#d5d5d5" stroke="#444" stroke-width="1.15"/>
<line x1="596.70" y1="252.50" x2="596.70" y2="299.50" stroke="#333" stroke-width="1"/>
<line x1="588.20" y1="252.50" x2="605.20" y2="252.50" stroke="#333" stroke-width="1"/>
<line x1="588.20" y1="299.50" x2="605.20" y2="299.50" stroke="#333" stroke-width="1"/>
<circle cx="596.7" cy="214.7" r="2.3" fill="#000"/>
<circle cx="596.7" cy="237" r="2.3" fill="#000"/>
<circle cx="596.7" cy="248.7" r="2.3" fill="#000"/>
<circle cx="596.7" cy="258.3" r="2.3" fill="#000"/>
<circle cx="584.7" cy="268.7" r="2.3" fill="#000"/>
<circle cx="592.5" cy="271.3" r="2.3" fill="#000"/>
<circle cx="600.5" cy="266.7" r="2.3" fill="#000"/>
<circle cx="600.5" cy="272.2" r="2.3" fill="#000"/>
<circle cx="596.7" cy="277.8" r="2.3" fill="#000"/>
<circle cx="584.7" cy="283.8" r="2.3" fill="#000"/>
<circle cx="592.5" cy="287.8" r="2.3" fill="#000"/>
<circle cx="600.5" cy="285.5" r="2.3" fill="#000"/>
<circle cx="608.5" cy="285" r="2.3" fill="#000"/>
<circle cx="584.7" cy="293.3" r="2.3" fill="#000"/>
<circle cx="608.5" cy="293" r="2.3" fill="#000"/>
<circle cx="592.5" cy="296" r="2.3" fill="#000"/>
<circle cx="600.8" cy="296" r="2.3" fill="#000"/>
<circle cx="596.6" cy="301.6" r="2.3" fill="#000"/>
<circle cx="596.6" cy="306.5" r="2.3" fill="#000"/>
<rect x="632" y="281.7" width="34.70" height="36.80" fill="#c9ddf8" stroke="#4a4eab" stroke-width="1.15"/>
<line x1="648.80" y1="263.30" x2="648.80" y2="300.00" stroke="#4a4eab" stroke-width="1"/>
<line x1="639.80" y1="263.30" x2="657.80" y2="263.30" stroke="#4a4eab" stroke-width="1"/>
<line x1="639.80" y1="300.00" x2="657.80" y2="300.00" stroke="#4a4eab" stroke-width="1"/>
<path d="M646.60,232.40L648.80,228.20L651.00,232.40Z" fill="#00008b"/>
<path d="M646.60,255.10L648.80,250.90L651.00,255.10Z" fill="#00008b"/>
<path d="M646.60,272.10L648.80,267.90L651.00,272.10Z" fill="#00008b"/>
<path d="M638.60,276.70L640.80,272.50L643.00,276.70Z" fill="#00008b"/>
<path d="M646.60,276.30L648.80,272.10L651.00,276.30Z" fill="#00008b"/>
<path d="M655.00,276.30L657.20,272.10L659.40,276.30Z" fill="#00008b"/>
<path d="M634.50,286.30L636.70,282.10L638.90,286.30Z" fill="#00008b"/>
<path d="M642.60,284.30L644.80,280.10L647.00,284.30Z" fill="#00008b"/>
<path d="M642.60,288.80L644.80,284.60L647.00,288.80Z" fill="#00008b"/>
<path d="M650.60,289.30L652.80,285.10L655.00,289.30Z" fill="#00008b"/>
<path d="M634.50,295.10L636.70,290.90L638.90,295.10Z" fill="#00008b"/>
<path d="M634.50,299.10L636.70,294.90L638.90,299.10Z" fill="#00008b"/>
<path d="M642.60,296.30L644.80,292.10L647.00,296.30Z" fill="#00008b"/>
<path d="M650.60,296.30L652.80,292.10L655.00,296.30Z" fill="#00008b"/>
<path d="M658.80,298.30L661.00,294.10L663.20,298.30Z" fill="#00008b"/>
<path d="M650.60,301.80L652.80,297.60L655.00,301.80Z" fill="#00008b"/>
<path d="M642.60,303.80L644.80,299.60L647.00,303.80Z" fill="#00008b"/>
<line x1="561.40" y1="328.00" x2="685.00" y2="328.00" stroke="#a5a5a5" stroke-width="1.8"/>
</svg>
</body></html>
